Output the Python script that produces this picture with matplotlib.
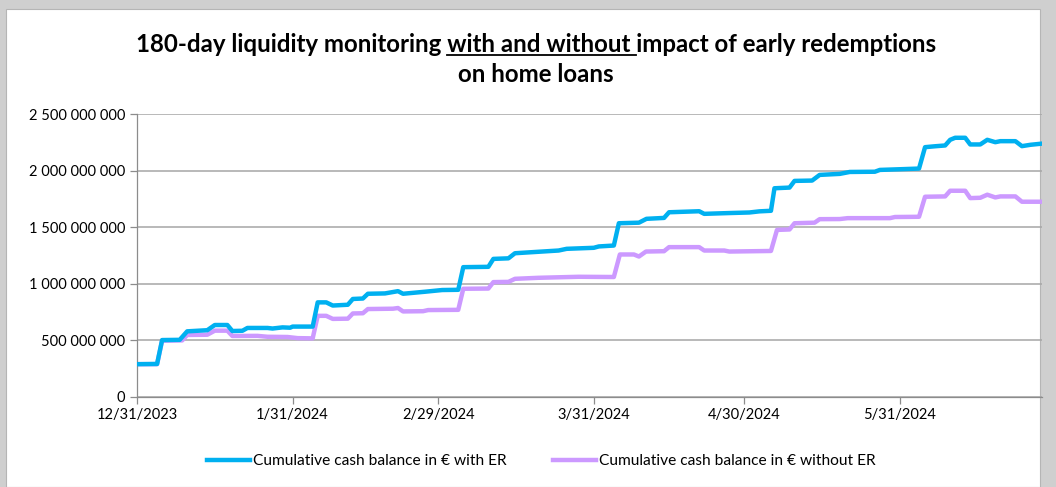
import datetime as dt
import numpy as np
import matplotlib
matplotlib.use("Agg")
import matplotlib.pyplot as plt
from matplotlib.patches import Rectangle
from matplotlib.lines import Line2D

plt.rcParams['font.family'] = ['Lato', 'DejaVu Sans']

start = dt.datetime(2023, 12, 31)

# values: day offset from 12/31/2023, balance in millions of euros
days_er = [0, 4, 5, 8.5, 10, 14, 15.5, 18, 19, 21, 22, 26, 27, 29, 30.5, 31, 35, 36,
           37.7, 39, 42, 43, 45, 46, 49.4, 52, 53, 57.4, 60.8, 64, 65, 70, 71, 74,
           75.3, 84, 85.6, 91, 92, 95, 96, 100, 101.5, 105, 106, 112, 113, 118, 122,
           124, 126.3, 127, 130, 131, 134.5, 136, 140, 142, 147, 148, 152, 155.8, 157,
           159, 161, 162, 163, 165, 166, 168, 169.4, 171, 172, 175, 176.3, 178, 180]
vals_er = [290, 292, 503, 505, 580, 590, 636, 636, 583, 585, 610, 610, 605, 615, 612, 622,
           622, 836, 836, 808, 815, 866, 870, 912, 915, 935, 912, 930, 945, 947, 1147,
           1150, 1220, 1225, 1270, 1294, 1309, 1318, 1330, 1338, 1535, 1540, 1574, 1582,
           1632, 1641, 1618, 1625, 1630, 1640, 1645, 1844, 1850, 1909, 1912, 1962, 1971,
           1988, 1990, 2006, 2012, 2018, 2207, 2215, 2222, 2272, 2290, 2290, 2231, 2231,
           2272, 2251, 2260, 2260, 2216, 2228, 2237]

days_no = [0, 4, 5, 9, 10, 14, 15.5, 18, 19, 24, 26, 30, 32, 35, 36, 37.7, 39, 42, 43,
           45, 46, 51, 52, 53, 57, 58, 64, 65, 70, 71, 74, 75.3, 80, 88, 95, 96.2, 99,
           100, 101.4, 105, 106, 112, 113, 117, 118, 126.3, 127.5, 130, 131, 135, 136,
           140, 141.6, 150, 151, 155.8, 157, 161, 162, 165, 166, 168, 169.4, 171, 172,
           175, 176.3, 180]
vals_no = [290, 290, 497, 500, 548, 550, 586, 586, 539, 540, 532, 530, 520, 518, 717, 717,
           690, 692, 738, 740, 777, 780, 786, 756, 758, 768, 770, 956, 958, 1015, 1017,
           1044, 1053, 1062, 1060, 1259, 1259, 1241, 1285, 1288, 1324, 1324, 1294, 1294,
           1285, 1290, 1476, 1480, 1535, 1540, 1571, 1572, 1580, 1580, 1590, 1592, 1769,
           1772, 1822, 1822, 1757, 1760, 1787, 1763, 1772, 1772, 1725, 1725]

tick_dates = [dt.datetime(2023, 12, 31), dt.datetime(2024, 1, 31), dt.datetime(2024, 2, 29),
              dt.datetime(2024, 3, 31), dt.datetime(2024, 4, 30), dt.datetime(2024, 5, 31)]
y_ticks = [0, 500e6, 1000e6, 1500e6, 2000e6, 2500e6]

label_er = "Cumulative cash balance in € with ER"
label_no = "Cumulative cash balance in € without ER"
title_1 = "180-day liquidity monitoring with and without impact of early redemptions"
title_2 = "on home loans"

W, H = 1056, 487
fig = plt.figure(figsize=(W / 100, H / 100), dpi=100)
fig.patch.set_facecolor('#cfcfcf')
# white chart card with shadow-like grey frame
fig.add_artist(Rectangle((6 / W, 0), (1040 - 6) / W, (H - 9) / H, transform=fig.transFigure,
                         facecolor='white', edgecolor='#b5b5b5', lw=0.8, zorder=0))

ax = fig.add_axes([137 / W, 1 - 397 / H, (1042 - 137) / W, (397 - 114) / H])
ax.set_facecolor('none')

x_er = [start + dt.timedelta(days=d) for d in days_er]
x_no = [start + dt.timedelta(days=d) for d in days_no]
ax.plot(x_er, np.array(vals_er) * 1e6, color='#00b0f0', lw=3.2, solid_joinstyle='round',
        label=label_er, zorder=3)
ax.plot(x_no, np.array(vals_no) * 1e6, color='#cc99ff', lw=3.2, solid_joinstyle='round',
        label=label_no, zorder=2)

ax.set_ylim(0, 2.5e9)
ax.set_xlim(start, start + dt.timedelta(days=180.3))
ax.set_yticks(y_ticks)
ax.yaxis.set_major_formatter(lambda v, p: f"{v:,.0f}".replace(",", " "))
ax.set_xticks(tick_dates)
ax.set_xticklabels([f"{d.month}/{d.day}/{d.year}" for d in tick_dates])
ax.grid(axis='y', color='#a6a6a6', lw=1.1)
ax.set_axisbelow(True)
for s in ['top', 'right']:
    ax.spines[s].set_visible(False)
for s in ['left', 'bottom']:
    ax.spines[s].set_color('#8c8c8c')
    ax.spines[s].set_linewidth(0.9)
ax.tick_params(axis='both', colors='#8c8c8c', labelcolor='black', labelsize=10.5,
               length=5, width=0.9)
ax.tick_params(axis='x', pad=3)

fig.legend(loc='center', bbox_to_anchor=(541 / W, 1 - 461 / H), ncol=2, frameon=False,
           fontsize=11.2, handlelength=2.8, handletextpad=0.15, columnspacing=3.0)

# title with underlined "with and without "
fs = 17.3
cx = 536 / W
t1 = fig.text(cx, 1 - 45 / H, title_1, ha='center', va='center', fontsize=fs,
              fontweight='bold')
fig.text(cx, 1 - 74 / H, title_2, ha='center', va='center', fontsize=fs, fontweight='bold')

r = fig.canvas.get_renderer()


def text_width(s):
    t = fig.text(0, 0, s, fontsize=fs, fontweight='bold')
    w = t.get_window_extent(r).width
    t.remove()
    return w


bb = t1.get_window_extent(r)
u0 = bb.x0 + text_width("180-day liquidity monitoring with") - text_width("with")
u1 = bb.x0 + text_width("180-day liquidity monitoring with and without i") - text_width("i")
uy = bb.y0 + 2
fig.add_artist(Line2D([u0 / W, u1 / W], [uy / H, uy / H], transform=fig.transFigure,
                      color='black', lw=1.3))

fig.savefig("out.png", dpi=100, facecolor=fig.get_facecolor())
